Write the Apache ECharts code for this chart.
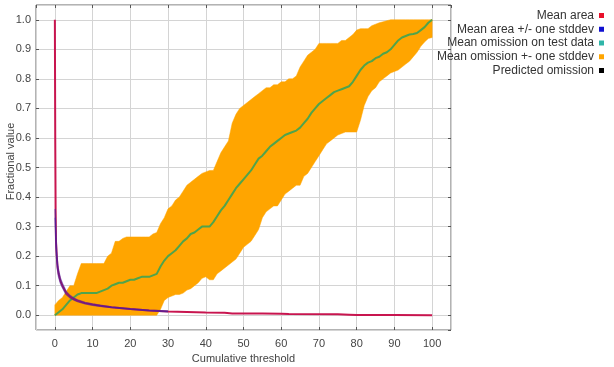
<!DOCTYPE html>
<html>
<head>
<meta charset="utf-8">
<script src="https://cdn.jsdelivr.net/npm/echarts@6/dist/echarts.min.js"></script>
<style>
html,body{margin:0;padding:0;background:#fff;}
#chart{width:614px;height:367px;}
</style>
</head>
<body>
<div id="chart"></div>
<script>
// Cumulative thresholds (x) for the omission curves
const thresholds = [0,1,2,3,4,5,6,7,8,9,10,11,12,13,14,15,16,17,18,19,20,21,22,23,24,25,26,27,28,29,30,31,32,33,34,35,36,37,38,39,40,41,42,43,44,45,46,47,48,49,50,51,52,53,54,55,56,57,58,59,60,61,62,63,64,65,66,67,68,69,70,71,72,73,74,75,76,77,78,79,80,81,82,83,84,85,86,87,88,89,90,91,92,93,94,95,96,97,98,99,100];

const omissionMean = [0,0.01,0.02,0.035,0.05,0.06,0.07,0.075,0.075,0.075,0.075,0.075,0.08,0.085,0.09,0.10,0.105,0.11,0.11,0.115,0.12,0.12,0.125,0.13,0.13,0.13,0.135,0.14,0.165,0.185,0.2,0.21,0.22,0.235,0.25,0.26,0.275,0.28,0.29,0.30,0.30,0.30,0.315,0.335,0.355,0.37,0.39,0.41,0.43,0.445,0.46,0.475,0.49,0.51,0.53,0.54,0.555,0.57,0.58,0.59,0.60,0.61,0.615,0.62,0.625,0.635,0.65,0.665,0.685,0.70,0.715,0.725,0.735,0.745,0.755,0.76,0.765,0.77,0.775,0.79,0.81,0.83,0.845,0.855,0.86,0.87,0.875,0.885,0.89,0.90,0.915,0.93,0.94,0.945,0.95,0.952,0.955,0.965,0.975,0.99,1.0];

const omissionUpper = [0.035,0.05,0.06,0.08,0.10,0.10,0.14,0.175,0.175,0.175,0.175,0.175,0.175,0.175,0.20,0.21,0.25,0.25,0.26,0.265,0.265,0.265,0.265,0.265,0.265,0.265,0.275,0.28,0.31,0.33,0.36,0.37,0.39,0.40,0.42,0.44,0.45,0.46,0.47,0.48,0.485,0.49,0.49,0.52,0.55,0.57,0.59,0.65,0.68,0.70,0.71,0.72,0.73,0.74,0.75,0.76,0.77,0.77,0.78,0.78,0.79,0.79,0.80,0.80,0.81,0.84,0.86,0.88,0.89,0.90,0.92,0.92,0.92,0.92,0.92,0.92,0.93,0.93,0.94,0.95,0.965,0.97,0.97,0.97,0.98,0.985,0.99,0.993,0.997,1,1,1,1,1,1,1,1,1,1,1,1];

const omissionLower = [0,0,0,0,0,0,0,0,0,0,0,0,0,0,0,0,0,0,0,0,0,0,0,0,0,0,0,0,0.02,0.05,0.06,0.065,0.07,0.07,0.075,0.085,0.09,0.10,0.11,0.125,0.13,0.12,0.12,0.14,0.15,0.16,0.17,0.18,0.19,0.21,0.23,0.24,0.25,0.27,0.29,0.33,0.35,0.36,0.37,0.37,0.39,0.41,0.42,0.43,0.44,0.44,0.47,0.48,0.50,0.52,0.54,0.56,0.58,0.59,0.60,0.61,0.615,0.62,0.62,0.62,0.62,0.66,0.71,0.74,0.76,0.77,0.79,0.80,0.81,0.82,0.825,0.83,0.84,0.85,0.86,0.875,0.89,0.91,0.925,0.937,0.94];

// Mean fractional area
const areaX    = [0,0.1,0.2,0.3,0.5,0.7,1,1.5,2,3,4,5,6,8,10,12,15,20,25,30,35,40,45,47,55,60,62,75,78,80,90,100];
const areaMean = [1.0,0.6,0.35,0.25,0.2,0.165,0.14,0.115,0.1,0.075,0.063,0.055,0.049,0.041,0.036,0.032,0.027,0.021,0.016,0.013,0.011,0.009,0.008,0.006,0.006,0.005,0.004,0.003,0.002,0.001,0.0005,0];

// Mean area +/- one stddev
const sdX     = [0.1,0.2,0.3,0.5,0.7,1,1.5,2,3,4,5,6,8,10,12,15,20,25,30];
const sdUpper = [0.36,0.3,0.26,0.21,0.175,0.15,0.123,0.107,0.08,0.067,0.058,0.052,0.043,0.038,0.034,0.028,0.022,0.017,0.014];
const sdLower = [0.33,0.28,0.23,0.19,0.155,0.13,0.108,0.094,0.07,0.059,0.052,0.046,0.039,0.034,0.03,0.026,0.02,0.015,0.012];

const legendNames = ['Mean area','Mean area +/- one stddev','Mean omission on test data','Mean omission +- one stddev','Predicted omission'];

const pairs = (xs, ys) => xs.map((x, i) => [x, ys[i]]);
const bandData = thresholds.map((x, i) => [x, omissionLower[i], omissionUpper[i]]);

const FONT = '"Liberation Sans", Arial, sans-serif';
const chart = echarts.init(document.getElementById('chart'), null, {renderer: 'canvas'});

const baseAxis = {
  axisLine: {show: false, onZero: false},
  splitLine: {show: true, lineStyle: {color: '#d4d4d4', width: 1}},
  axisTick: {show: true, inside: true, length: 3, lineStyle: {color: '#555'}},
};

function renderBand(params, api) {
  if (params.dataIndex !== 0) return null;
  const pts = [];
  for (let i = 0; i < bandData.length; i++) pts.push(api.coord([bandData[i][0], bandData[i][2]]));
  for (let i = bandData.length - 1; i >= 0; i--) pts.push(api.coord([bandData[i][0], bandData[i][1]]));
  return {
    type: 'polygon',
    shape: {points: pts},
    style: {fill: '#ffa500', stroke: '#ffa500', lineWidth: 0.5}
  };
}

chart.setOption({
  animation: false,
  backgroundColor: '#ffffff',
  grid: {left: 36, right: 163, top: 5, bottom: 37, outerBoundsMode: 'none', containLabel: false,
    show: true, borderColor: '#666', borderWidth: 1, backgroundColor: 'transparent'},
  legend: {
    data: legendNames,
    orient: 'vertical',
    right: 5,
    top: 4,
    align: 'right',
    icon: 'rect',
    itemWidth: 5,
    itemHeight: 5,
    itemGap: 0.75,
    selectedMode: false,
    textStyle: {fontFamily: FONT, fontSize: 12, color: '#333', lineHeight: 13, padding: [0, 0, 0, 0]}
  },
  xAxis: [
    Object.assign({}, baseAxis, {
      type: 'value', min: -5, max: 105, splitNumber: 11,
      name: 'Cumulative threshold', nameLocation: 'middle', nameGap: 20,
      nameTextStyle: {fontFamily: FONT, fontSize: 11, color: '#444'},
      axisLabel: {fontFamily: FONT, fontSize: 11, color: '#444', margin: 8, showMinLabel: false, showMaxLabel: false,
        formatter: v => (Math.abs(v % 10) < 1e-9 ? String(v) : '')}
    }),
    Object.assign({}, baseAxis, {
      type: 'value', min: -5, max: 105, splitNumber: 11, position: 'top',
      splitLine: {show: false}, axisLabel: {show: false}
    })
  ],
  yAxis: [
    Object.assign({}, baseAxis, {
      type: 'value', min: -0.05, max: 1.05, splitNumber: 11,
      name: 'Fractional value', nameLocation: 'middle', nameGap: 20, nameMoveOverlap: false,
      nameTextStyle: {fontFamily: FONT, fontSize: 11, color: '#444', padding: [0, 0, 0, 12]},
      axisLabel: {fontFamily: FONT, fontSize: 11, color: '#444', margin: 5, showMinLabel: false, showMaxLabel: false,
        formatter: v => {
          const r = Math.round(v * 10);
          return Math.abs(v * 10 - r) < 1e-6 ? (r / 10).toFixed(1) : '';
        }}
    }),
    Object.assign({}, baseAxis, {
      type: 'value', min: -0.05, max: 1.05, splitNumber: 11, position: 'right',
      splitLine: {show: false}, axisLabel: {show: false}
    })
  ],
  series: [
    {
      name: 'Mean omission +- one stddev', type: 'custom', data: bandData,
      encode: {x: 0, y: [1, 2]}, renderItem: renderBand, clip: true,
      itemStyle: {color: '#ffa500'}, z: 2
    },
    {
      name: 'Predicted omission', type: 'line', data: [], symbol: 'none',
      itemStyle: {color: '#000000'}, lineStyle: {color: '#000000'}
    },
    {
      name: 'Mean omission on test data', type: 'line', data: pairs(thresholds, omissionMean),
      symbol: 'none', itemStyle: {color: '#2fb5a8'}, lineStyle: {color: '#4fa44c', width: 2}, z: 3
    },
    {
      name: 'Mean area', type: 'line', data: pairs(areaX, areaMean),
      symbol: 'none', itemStyle: {color: '#e8102a'}, lineStyle: {color: '#c8154f', width: 2}, z: 4
    },
    {
      name: 'Mean area +/- one stddev', type: 'line', data: pairs(sdX, sdUpper),
      symbol: 'none', itemStyle: {color: '#1010d0'}, lineStyle: {color: '#3a1fa8', width: 1.5, opacity: 0.55}, z: 5
    },
    {
      name: 'Mean area +/- one stddev', type: 'line', data: pairs(sdX, sdLower),
      symbol: 'none', itemStyle: {color: '#1010d0'}, lineStyle: {color: '#3a1fa8', width: 1.5, opacity: 0.55}, z: 5
    }
  ]
});
</script>
</body>
</html>
